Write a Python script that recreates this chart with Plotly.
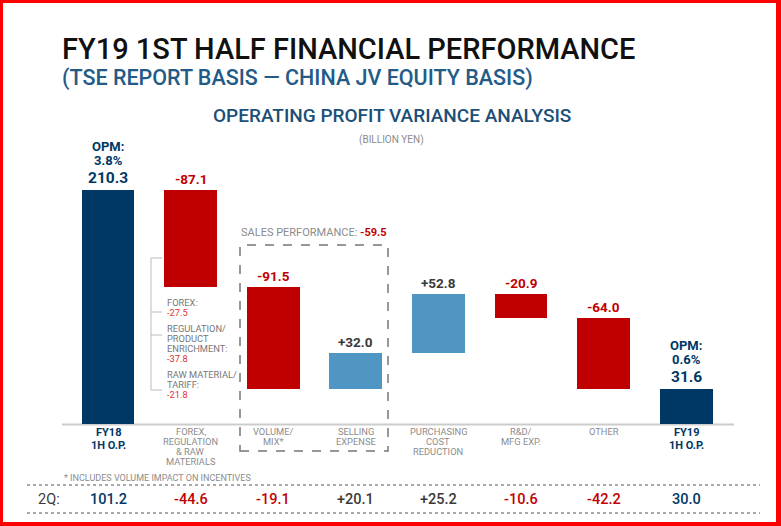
import plotly.graph_objects as go

# ---------------- data ----------------
categories = [["FY18", "1H O.P."], ["FOREX,", "REGULATION", "& RAW", "MATERIALS"], ["VOLUME/", "MIX*"],
              ["SELLING", "EXPENSE"], ["PURCHASING", "COST", "REDUCTION"], ["R&D/", "MFG EXP."], ["OTHER"],
              ["FY19", "1H O.P."]]
measures = ["total", "delta", "delta", "delta", "delta", "delta", "delta", "total"]
values = [210.3, -87.1, -91.5, 32.0, 52.8, -20.9, -64.0, 31.6]
q2_values = [101.2, -44.6, -19.1, 20.1, 25.2, -10.6, -42.2, 30.0]
opm_labels = ["3.8%", "0.6%"]
forex_items = [["FOREX:"], ["REGULATION/", "PRODUCT", "ENRICHMENT:"], ["RAW MATERIAL/", "TARIFF:"]]
forex_values = [-27.5, -37.8, -21.8]
sales_performance = -59.5

NAVY = "#003865"
RED = "#c00000"
BLUE = "#5096c5"
GRAY = "#8c8c8c"
DARK = "#3a3a3a"
FONT = "Roboto"

# ---------------- geometry helpers (pixel -> paper) ----------------
L, R, T, B = 62, 734, 140, 424
W, H = 781, 526
def px(x):
    return (x - L) / (R - L)
def py(y):
    return (B - y) / (B - T)

# ---------------- bars ----------------
bases, lengths, tops, colors = [], [], [], []
running = 0.0
for m, v in zip(measures, values):
    if m == "total":
        base, length = 0.0, v
        running = v
        colors.append(NAVY)
    else:
        new = running + v
        base, length = min(running, new), abs(v)
        running = new
        colors.append(RED if v < 0 else BLUE)
    bases.append(base)
    lengths.append(length)
    tops.append(base + length)

xs = list(range(len(categories)))
unit = 82.6
x0 = (L - 108) / unit
x1 = x0 + (R - L) / unit
yscale = 1.113
ymax = (B - T) / yscale

fig = go.Figure()
fig.add_trace(go.Bar(x=xs, y=lengths, base=bases, width=0.64,
                     marker=dict(color=colors, line=dict(width=0)),
                     hoverinfo="skip", showlegend=False))

ann = []
shapes = []

def txt(x, y, text, size, color, weight=400, xanchor="center", yanchor="middle", xref="paper", yref="paper", yshift=0):
    ann.append(dict(x=x, y=y, xref=xref, yref=yref, text=text, showarrow=False,
                    xanchor=xanchor, yanchor=yanchor, yshift=yshift,
                    font=dict(family=FONT, size=size, color=color, weight=weight)))

def fmt(m, v):
    if m == "total":
        return f"{v:.1f}"
    return f"{v:+.1f}"

for i, (m, v, top) in enumerate(zip(measures, values, tops)):
    if m == "total":
        col, size = NAVY, 15.5
    else:
        col, size = (RED if v < 0 else DARK), 13.5
    txt(i, top, fmt(m, v), size, col, 700, yanchor="bottom", xref="x", yref="y", yshift=1)

# OPM labels above total bars
tot_idx = [i for i, m in enumerate(measures) if m == "total"]
for k, i in enumerate(tot_idx):
    txt(i, tops[i], "OPM:", 13, NAVY, 700, xref="x", yref="y", yshift=43)
    txt(i, tops[i], opm_labels[k], 13, NAVY, 700, xref="x", yref="y", yshift=29)

# category labels
for i, (m, lines) in enumerate(zip(measures, categories)):
    for j, ln in enumerate(lines):
        if m == "total":
            txt(i, py(432 + 14 * j), ln, 11, NAVY, 700, xref="x")
        else:
            txt(i, py(431 + 10 * j), ln, 9.3, GRAY, 400, xref="x")

# 2Q row
txt(px(49), py(499), "2Q:", 14.5, DARK, 400)
for i, (m, v) in enumerate(zip(measures, q2_values)):
    col = NAVY if m == "total" else (RED if v < 0 else DARK)
    txt(i, py(499), fmt(m, v), 14.5, col, 500, xref="x")

# titles
txt(px(60), py(49), "FY19 1ST HALF FINANCIAL PERFORMANCE", 29, "#111111", 500, xanchor="left")
txt(px(60), py(78), "(TSE REPORT BASIS \u2014 CHINA JV EQUITY BASIS)", 21.5, "#245b86", 500, xanchor="left")
txt(px(392), py(116), "OPERATING PROFIT VARIANCE ANALYSIS", 19, "#1b4f78", 500)
txt(px(391), py(140), "(BILLION YEN)", 10, GRAY, 400)

# sales performance box
txt(px(239), py(232), f"SALES PERFORMANCE: <b><span style='color:{RED}'>{sales_performance:.1f}</span></b>",
    11, GRAY, 400, xanchor="left")
shapes.append(dict(type="rect", xref="paper", yref="paper", x0=px(240), x1=px(388), y0=py(451), y1=py(245),
                   line=dict(color="#777777", width=1.5, dash="dash"), layer="above"))

# forex breakdown
yy = 302
for lines, v in zip(forex_items, forex_values):
    for ln in lines:
        txt(px(165), py(yy), ln, 9.3, "#777777", 400, xanchor="left")
        yy += 10
    txt(px(165), py(yy), f"{v:.1f}", 9.3, "#e03030", 400, xanchor="left")
    yy += 16
tick_ys = [258, 312, 335, 390]
shapes.append(dict(type="line", xref="paper", yref="paper", x0=px(151), x1=px(151), y0=py(258), y1=py(390),
                   line=dict(color="#bbbbbb", width=1)))
for ty in tick_ys:
    shapes.append(dict(type="line", xref="paper", yref="paper", x0=px(151), x1=px(162), y0=py(ty), y1=py(ty),
                       line=dict(color="#bbbbbb", width=1)))

# footnote
txt(px(62), py(478), "* INCLUDES VOLUME IMPACT ON INCENTIVES", 9, GRAY, 400, xanchor="left")

# baseline & dotted lines
shapes.append(dict(type="line", xref="paper", yref="paper", x0=0, x1=1, y0=py(424.5), y1=py(424.5),
                   line=dict(color="#cccccc", width=2), layer="below"))
for ly in (485, 513):
    shapes.append(dict(type="line", xref="paper", yref="paper", x0=px(27), x1=px(760), y0=py(ly), y1=py(ly),
                       line=dict(color="#555555", width=1.2, dash="dot")))

# red border (filled strips)
for (a, b, c, d) in [(0, 3, 0, 526), (776, 781, 0, 526), (0, 781, 0, 3), (0, 781, 522, 526)]:
    shapes.append(dict(type="rect", xref="paper", yref="paper", x0=px(a), x1=px(b), y0=py(d), y1=py(c),
                       fillcolor="#ff0000", line=dict(width=0)))

fig.update_layout(
    width=W, height=H,
    margin=dict(l=L, r=W - R, t=T, b=H - B, pad=0),
    paper_bgcolor="white", plot_bgcolor="white",
    xaxis=dict(range=[x0, x1], visible=False, fixedrange=True),
    yaxis=dict(range=[0, ymax], visible=False, fixedrange=True),
    annotations=ann, shapes=shapes, bargap=0,
)
fig.write_html("out.html", config={"displayModeBar": False},
               post_script="document.body.style.margin='0';document.body.style.overflow='hidden';")
